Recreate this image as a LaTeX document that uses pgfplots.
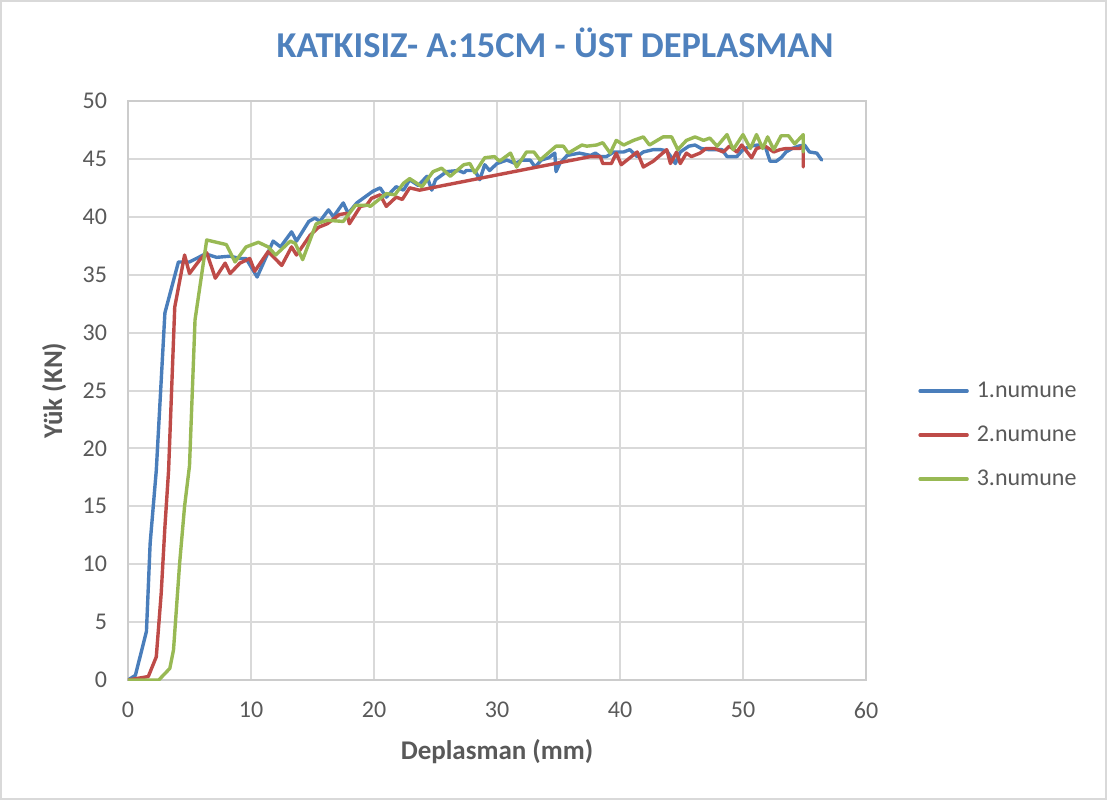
\documentclass[border=0pt]{standalone}
\usepackage{fontspec}
\setmainfont{Carlito}
\usepackage{pgfplots}
\pgfplotsset{compat=1.18}
\definecolor{c1}{HTML}{4A7EBB}
\definecolor{c2}{HTML}{BE4B48}
\definecolor{c3}{HTML}{98B954}
\definecolor{tcol}{HTML}{595959}
\definecolor{gcol}{HTML}{D9D9D9}
\definecolor{acol}{HTML}{CCCCCC}
\definecolor{titcol}{HTML}{4F81BD}
\begin{document}
\begin{tikzpicture}[x=1pt,y=1pt]
\useasboundingbox (-64,-60) rectangle (489.5,340);
\draw[gcol, line width=1pt] (-63.5,-59.5) rectangle (489,339.5);
\begin{axis}[
  at={(0,0)}, anchor=south west,
  scale only axis, width=369pt, height=289.5pt,
  xmin=0, xmax=60, ymin=0, ymax=50,
  xtick distance=10, ytick distance=5,
  grid=major, grid style={gcol, line width=1pt},
  axis line style={acol, line width=1pt},
  major tick length=0pt,
  tick label style={font=\fontsize{12}{14}\selectfont, color=tcol},
  /pgf/number format/assume math mode=true,
  xticklabel style={yshift=-7.5pt},
  yticklabel style={xshift=-7pt},
  xlabel={Deplasman (mm)}, ylabel={Yük (KN)},
  label style={font=\bfseries\fontsize{13.5}{16}\selectfont, color=tcol},
  xlabel style={at={(axis description cs:0.5,-0.1244)}, anchor=center},
  ylabel style={at={(axis description cs:-0.1,0.5)}, anchor=center},
  title={KATKISIZ- A:15CM - ÜST DEPLASMAN},
  title style={at={(axis description cs:0.5786,1.0795)}, anchor=center, font=\bfseries\fontsize{18.2}{22}\selectfont, color=titcol},
  legend style={at={(axis description cs:1,0.5)}, anchor=west, xshift=26pt, yshift=-22.25pt,
    draw=none, fill=none, inner sep=0pt, font=\fontsize{12}{14}\selectfont, text=tcol,
    row sep=8pt, column sep=2pt,
    nodes={inner sep=2pt, text height=8pt, text depth=2pt}},
  legend cell align=left,
  legend image code/.code={\draw[#1] (0pt,0pt) -- (23.5pt,0pt);},
  every axis plot/.append style={line width=1.7pt, line join=round, line cap=round},
]
\addplot[c1] coordinates {
(0,0) (0.6,0.4) (1.5,4.2) (1.8,11.8) (2.3,18.1) (3.0,31.7) (4.1,36.1) (5.0,36.1) (6.3,36.8) (7.2,36.5) (8.3,36.6) (9.1,36.4) (9.6,36.4) (10.5,34.8) (11.8,37.9) (12.4,37.4) (13.3,38.7) (13.7,37.9) (14.7,39.6) (15.2,39.9) (15.6,39.6) (16.3,40.6) (16.7,40.0) (17.5,41.2) (17.9,40.3) (18.6,41.2) (19.9,42.2) (20.5,42.5) (21.0,41.7) (21.8,42.6) (22.4,42.3) (22.9,43.2) (23.6,42.7) (24.3,43.5) (24.7,42.3) (25.0,43.2) (25.9,43.9) (26.9,44.0) (27.3,43.8) (27.5,44.0) (28.2,44.0) (28.6,43.2) (29.0,44.5) (29.4,44.0) (30.0,44.6) (30.8,44.9) (31.5,44.6) (32.0,44.9) (32.7,44.9) (33.1,44.3) (33.6,44.9) (34.2,45.1) (34.7,45.5) (34.8,43.9) (35.1,44.6) (35.7,45.3) (36.7,45.5) (37.6,45.3) (38.0,45.5) (38.4,45.2) (38.9,45.2) (39.5,45.6) (40.3,45.6) (40.8,45.8) (41.4,45.2) (41.9,45.6) (42.7,45.8) (43.3,45.8) (43.8,45.7) (44.2,45.1) (44.5,44.6) (44.9,45.6) (45.6,46.1) (46.1,46.2) (46.6,45.9) (47.2,45.8) (47.7,45.8) (48.3,45.8) (48.7,45.2) (49.5,45.2) (50.0,45.8) (50.6,46.1) (51.2,46.2) (51.8,46.1) (52.2,44.8) (52.7,44.8) (53.1,45.1) (53.5,45.6) (54.0,45.9) (54.5,46.1) (55.0,46.2) (55.4,45.6) (56.0,45.5) (56.4,44.9)
};
\addlegendentry{1.numune}
\addplot[c2] coordinates {
(0,0) (1.65,0.3) (2.3,2.0) (2.7,7.5) (3.0,13.2) (3.3,18.1) (3.8,32.2) (4.6,36.7) (5.0,35.1) (5.85,36.3) (6.4,36.9) (7.1,34.7) (7.9,36.0) (8.3,35.1) (9.1,36.0) (9.9,36.4) (10.3,35.3) (11.4,37.0) (12.5,35.8) (13.3,37.4) (13.7,36.7) (14.8,38.4) (15.5,39.1) (16.2,39.4) (17.2,40.2) (17.8,40.3) (18.0,39.4) (18.9,40.9) (19.4,41.0) (19.8,41.6) (20.5,41.9) (21.0,40.9) (21.8,41.7) (22.3,41.5) (22.9,42.5) (23.7,42.3) (37.6,45.2) (38.4,45.2) (38.6,44.6) (39.3,44.6) (39.7,45.5) (40.1,44.5) (41.4,45.6) (41.9,44.3) (42.7,44.8) (43.8,45.8) (44.1,44.6) (44.6,45.6) (44.9,44.6) (45.4,45.5) (45.8,45.2) (46.5,45.5) (47.0,45.9) (47.7,45.9) (48.4,45.6) (48.9,46.1) (49.5,45.6) (49.9,46.2) (50.7,45.1) (51.1,45.9) (51.8,46.1) (52.5,45.6) (53.0,45.8) (53.5,45.9) (54.6,45.9) (54.9,46.1) (54.9,44.3)
};
\addlegendentry{2.numune}
\addplot[c3] coordinates {
(0,0) (2.5,0.0) (3.4,1.0) (3.7,2.6) (4.2,10.1) (4.6,15.0) (5.0,18.5) (5.45,31.1) (6.4,38.0) (8.0,37.6) (8.7,36.1) (9.6,37.4) (10.6,37.8) (11.4,37.4) (12.0,36.7) (13.2,37.9) (13.6,37.7) (14.2,36.3) (15.3,39.4) (16.2,39.7) (17.5,39.6) (18.5,41.0) (19.5,41.0) (19.7,40.9) (21.0,42.0) (21.7,41.9) (22.4,42.9) (22.9,43.3) (23.9,42.6) (24.8,43.9) (25.5,44.2) (26.2,43.5) (27.3,44.5) (27.8,44.6) (28.2,43.8) (29.0,45.1) (29.8,45.2) (30.2,44.8) (31.1,45.5) (31.6,44.3) (32.4,45.6) (33.0,45.6) (33.5,44.9) (34.8,46.1) (35.4,46.1) (35.8,45.5) (36.9,46.2) (37.3,46.1) (38.1,46.2) (38.6,46.4) (39.2,45.5) (39.7,46.6) (40.3,46.2) (41.1,46.6) (41.9,46.9) (42.4,46.2) (43.5,46.9) (44.2,46.9) (44.7,45.8) (45.4,46.6) (46.1,46.9) (46.8,46.6) (47.3,46.8) (47.9,46.1) (48.7,47.1) (49.2,45.8) (50.0,47.1) (50.6,45.9) (51.1,47.1) (51.6,45.9) (52.0,46.9) (52.5,45.8) (53.1,47.0) (53.7,47.0) (54.2,46.3) (54.9,47.1) (54.9,45.6)
};
\addlegendentry{3.numune}
\end{axis}
\end{tikzpicture}
\end{document}
